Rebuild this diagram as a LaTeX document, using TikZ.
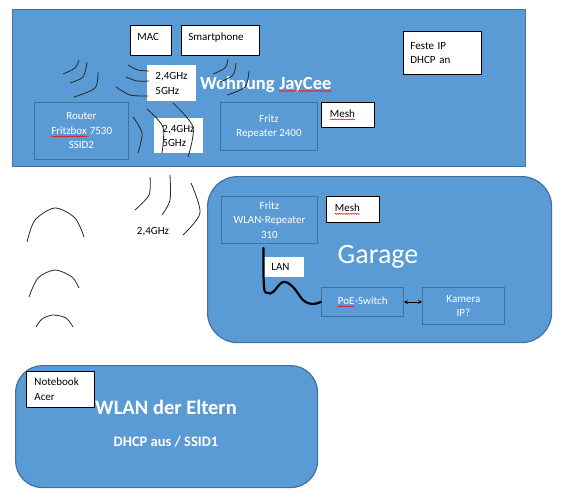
\documentclass[tikz,border=0pt]{standalone}
\usepackage{fontspec}
\setmainfont{Carlito}
\usetikzlibrary{positioning, arrows.meta, decorations.pathmorphing}

\definecolor{officeblue}{HTML}{5B9BD5}
\definecolor{blueedge}{HTML}{41719C}
\definecolor{waveline}{HTML}{262626}

\newcommand{\boxfont}{\fontsize{11}{14.5}\selectfont}
% red spell-check squiggle
\newcommand{\typo}[1]{\tikz[baseline=(tw.base)]{\node[inner sep=0pt, minimum width=0pt, minimum height=0pt,
        text width={}, text height={}, text depth={}, draw=none, fill=none, anchor=base] (tw) at (0,0) {#1};
    \draw[red, line width=0.5pt, decorate, decoration={snake, amplitude=0.5pt, segment length=2.2pt}]
        ([yshift=-2pt]tw.base west) -- ([yshift=-2pt]tw.base east);}}

\begin{document}
\begin{tikzpicture}[
    x=1pt, y=-1pt,
    area/.style={
        draw=blueedge,
        fill=officeblue,
        line width=1.2pt,
        anchor=north west,
        inner sep=0pt
    },
    devbox/.style={
        draw=blueedge,
        fill=officeblue,
        line width=0.9pt,
        text=white,
        align=center,
        inner sep=0pt,
        anchor=north west,
        font=\boxfont
    },
    notebox/.style={
        draw=black,
        fill=white,
        line width=0.9pt,
        align=left,
        inner xsep=7pt,
        inner ysep=0pt,
        anchor=north west,
        font=\boxfont
    },
    bandbox/.style={
        notebox,
        draw=none,
        inner xsep=8pt
    },
    titletext/.style={
        text=white,
        anchor=base,
        inner sep=0pt
    },
    wave/.style={
        draw=waveline,
        line width=0.8pt
    },
    lancable/.style={
        draw=black,
        line width=2.2pt,
        line cap=round
    },
    biarrow/.style={
        {Stealth[length=4pt,width=4pt]}-{Stealth[length=4pt,width=4pt]},
        line width=0.8pt
    }
]
    \useasboundingbox (0,0) rectangle (569,500);

    % Areas
    \node[area, minimum width=513, minimum height=157] (wohnung) at (12,9) {};
    \node[area, rounded corners=30pt, minimum width=344, minimum height=166] (garage) at (207,176) {};
    \node[area, rounded corners=27pt, minimum width=302, minimum height=122] (eltern) at (15,365) {};

    % Titles
    \node[titletext, font=\fontsize{18.5}{22}\selectfont\bfseries] (wohnungtitle) at (266,89) {Wohnung \typo{JayCee}};
    \node[titletext, font=\fontsize{28}{32}\selectfont] (garagetitle) at (378,263) {Garage};
    \node[titletext, font=\fontsize{20.5}{24}\selectfont\bfseries] (elterntitle) at (166,414) {WLAN der Eltern};
    \node[titletext, font=\fontsize{14.5}{17}\selectfont\bfseries] (dhcp) at (166,446) {DHCP aus / SSID1};

    % Devices
    \node[devbox, minimum width=94, minimum height=57] (router) at (34,102) {Router\\\typo{Fritzbox} 7530\\SSID2};
    \node[devbox, minimum width=97, minimum height=48] (rep2400) at (220,102) {Fritz\\Repeater 2400};
    \node[devbox, minimum width=96, minimum height=47] (rep310) at (221,196) {Fritz\\WLAN-Repeater\\310};
    \node[devbox, minimum width=82, minimum height=29] (poe) at (321,287) {\typo{PoE}-Switch};
    \node[devbox, minimum width=82, minimum height=37] (kamera) at (422,287) {Kamera\\IP?};

    % Notes
    \node[notebox, text width=27, minimum height=30, text height=8pt, text depth=8pt] (mac) at (130,25) {MAC};
    \node[notebox, text width=64, minimum height=30, text height=8pt, text depth=8pt, right=9pt of mac] (phone) {Smartphone};
    \node[notebox, text width=64, minimum height=43] (festeip) at (403,31) {Feste IP\\DHCP an};
    \node[notebox, text width=37, minimum height=25, inner xsep=8pt] (mesha) at (321,102) {\typo{Mesh}};
    \node[notebox, text width=37, minimum height=26, inner xsep=8pt] (meshb) at (326,196) {\typo{Mesh}};
    \node[notebox, text width=52, minimum height=36, inner xsep=8pt] (notebook) at (26,371) {Notebook\\Acer};
    \node[bandbox, text width=33, minimum height=36] (banda) at (147,65) {2,4GHz\\5GHz};
    \node[bandbox, text width=33, minimum height=35] (bandb) at (154,118) {2,4GHz\\5GHz};
    \node[bandbox, text width=26, minimum height=20, inner xsep=7pt] (lan) at (264,257) {LAN};
    \node[font=\boxfont, anchor=base, inner sep=0pt] (bandc) at (153,234) {2,4GHz};

    % Radio waves
    \draw[wave] plot[smooth] coordinates {(63,74) (75,68) (79,60)};
    \draw[wave] plot[smooth] coordinates {(70,83) (83,77) (87,62)};
    \draw[wave] plot[smooth] coordinates {(74,97) (95,88) (98,72)};
    \draw[wave] plot[smooth] coordinates {(128,65) (138,70) (149,71)};
    \draw[wave] plot[smooth] coordinates {(126,77) (137,81) (149,81)};
    \draw[wave] plot[smooth] coordinates {(116,87) (130,95) (148,96)};
    \draw[wave] plot[smooth] coordinates {(213,74) (225,68) (228,59)};
    \draw[wave] plot[smooth] coordinates {(220,82) (233,75) (236,63)};
    \draw[wave] plot[smooth] coordinates {(227,95) (245,87) (249,71)};
    \draw[wave] plot[smooth] coordinates {(133,117) (142,133) (138,153)};
    \draw[wave] plot[smooth] coordinates {(147,109) (163,127) (162,153)};
    \draw[wave] plot[smooth] coordinates {(173,103) (193,127) (188,157)};
    \draw[wave] plot[smooth] coordinates {(135,210) (149,195) (150,177)};
    \draw[wave] plot[smooth] coordinates {(162,215) (170,200) (170,175)};
    \draw[wave] plot[smooth] coordinates {(183,235) (200,213) (191,183)};
    \draw[wave] plot[smooth] coordinates {(27,242) (35,220) (55,208) (75,218) (84,237)};
    \draw[wave] plot[smooth] coordinates {(29,297) (38,278) (55,270) (72,277) (79,288)};
    \draw[wave] plot[smooth] coordinates {(36,327) (42,319) (53,315) (66,318) (73,327)};

    % LAN cable and link to the camera
    \draw[lancable] plot[smooth, tension=0.6] coordinates {([xshift=-6pt,yshift=-4pt]rep310.south) (264,287) (268,293) (273,292) (283,282) (293,287) (303,300) (312,304) (poe.west)};
    \draw[biarrow] (poe.east) -- (poe.east -| kamera.west);

\end{tikzpicture}
\end{document}
